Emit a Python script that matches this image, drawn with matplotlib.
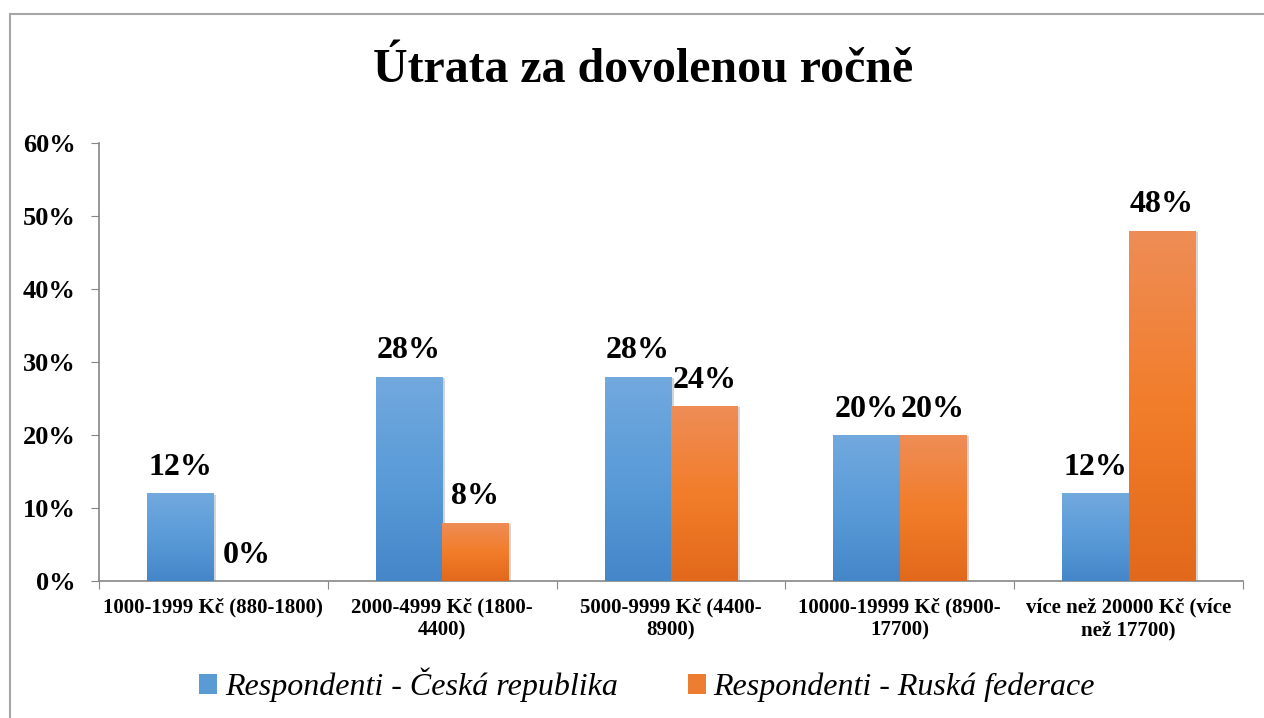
import numpy as np
import matplotlib
matplotlib.use("Agg")
import matplotlib.pyplot as plt
from matplotlib.colors import LinearSegmentedColormap
from matplotlib.lines import Line2D
from matplotlib.patches import Patch
import matplotlib.patheffects as pe

# data
categories = [
    "1000-1999 Kč (880-1800)",
    "2000-4999 Kč (1800-\n4400)",
    "5000-9999 Kč (4400-\n8900)",
    "10000-19999 Kč (8900-\n17700)",
    "více než 20000 Kč (více\nnež 17700)",
]
cz_values = [12, 28, 28, 20, 12]
ru_values = [0, 8, 24, 20, 48]
series_names = ["Respondenti - Česká republika", "Respondenti - Ruská federace"]
yticks = [0, 10, 20, 30, 40, 50, 60]

plt.rcParams["font.family"] = ["Liberation Serif", "DejaVu Serif"]

blue_map = LinearSegmentedColormap.from_list("b", ["#4586c9", "#5a9bd8", "#72a9de"])
orange_map = LinearSegmentedColormap.from_list("o", ["#e2691b", "#f27d2a", "#ee8d57"])

fig = plt.figure(figsize=(12.64, 7.18), dpi=100)
ax = fig.add_axes([99 / 1264, 1 - 581 / 718, (1243 - 99) / 1264, (581 - 143) / 718])

x = np.arange(len(categories))
w = 0.29
bars_cz = ax.bar(x - w / 2, cz_values, w, color="#5b9bd5", zorder=2)
bars_ru = ax.bar(x + w / 2, ru_values, w, color="#ed7d31", zorder=2)

grad = np.linspace(0, 1, 256).reshape(-1, 1)
for bars, cmap in ((bars_cz, blue_map), (bars_ru, orange_map)):
    for b in bars:
        h = b.get_height()
        if h <= 0:
            continue
        b.set_path_effects([pe.SimplePatchShadow(offset=(2, -1), alpha=0.2), pe.Normal()])
        x0 = b.get_x()
        im = ax.imshow(grad, extent=[x0, x0 + b.get_width(), 0, h], origin="lower",
                       aspect="auto", cmap=cmap, zorder=3)
        im.set_clip_path(b)

# value labels
for bars, vals in ((bars_cz, cz_values), (bars_ru, ru_values)):
    for b, v in zip(bars, vals):
        ax.annotate(f"{v}%", (b.get_x() + b.get_width() / 2, v), xytext=(0, 8),
                    textcoords="offset points", ha="center", va="bottom",
                    fontsize=23, fontweight="bold", zorder=4)

ax.set_xlim(-0.5, len(categories) - 0.5)
ax.set_ylim(0, 60)
ax.set_yticks(yticks)
ax.set_yticklabels([f"{t}%" for t in yticks], fontsize=19, fontweight="bold")

ax.set_xticks(np.arange(len(categories) + 1) - 0.5)
ax.set_xticklabels([])
ax.set_xticks(x, minor=True)
ax.set_xticklabels(categories, minor=True, fontsize=15, fontweight="bold", linespacing=1.2)
ax.tick_params(axis="x", which="minor", length=0, pad=12)
ax.tick_params(axis="x", which="major", length=6, color="#868686")
ax.tick_params(axis="y", length=6, color="#868686", pad=11)

for s in ("top", "right"):
    ax.spines[s].set_visible(False)
for s in ("left", "bottom"):
    ax.spines[s].set_color("#868686")
    ax.spines[s].set_linewidth(1.2)

fig.text(0.5085, 1 - 70 / 718, "Útrata za dovolenou ročně", ha="center", va="center",
         fontsize=34.5, fontweight="bold")

handles = [Patch(facecolor="#5b9bd5"), Patch(facecolor="#ed7d31")]
fig.legend(handles, series_names, loc="center", bbox_to_anchor=(0.512, 1 - 685 / 718),
           ncol=2, frameon=False, prop={"size": 23, "style": "italic"},
           handlelength=0.55, handleheight=0.55, handletextpad=0.25, columnspacing=2.2)

# chart border
fig.add_artist(Line2D([10 / 1264, 10 / 1264], [0, 1 - 14 / 718], color="#a6a6a6", lw=1.5))
fig.add_artist(Line2D([10 / 1264, 1], [1 - 14 / 718, 1 - 14 / 718], color="#a6a6a6", lw=1.5))

fig.savefig("out.png", dpi=100)
